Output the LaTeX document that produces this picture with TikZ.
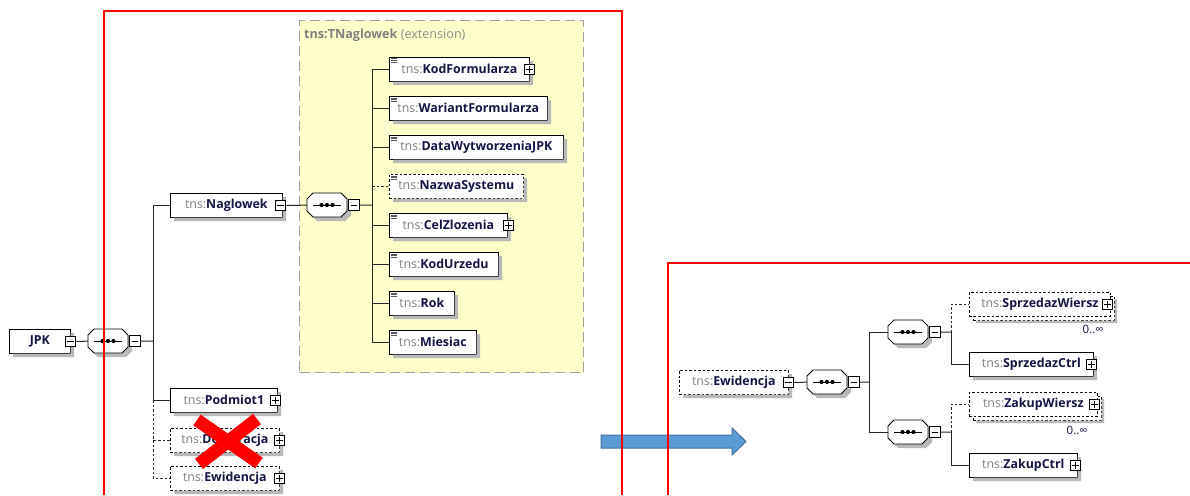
\documentclass[tikz,border=0pt]{standalone}
\usepackage{fontspec}
\setmainfont{Open Sans}
\definecolor{tnsgray}{RGB}{128,128,128}
\definecolor{namecol}{RGB}{20,20,70}
\definecolor{yellowbg}{RGB}{255,255,204}
\definecolor{yellowedge}{RGB}{160,160,160}
\definecolor{shadowgray}{RGB}{185,185,185}
\definecolor{arrowblue}{RGB}{91,155,213}
\definecolor{arrowedge}{RGB}{65,113,156}
\definecolor{redline}{RGB}{255,0,0}
\newcommand{\xel}[1]{{\color{tnsgray}tns:}{\bfseries\color{namecol}#1}}
\newcommand{\xnm}[1]{{\bfseries\color{namecol}#1}}
\tikzset{
  box/.style={draw=black, fill=white, line width=0.7pt, minimum height=24pt, inner sep=0pt,
    anchor=north west, font=\fontsize{12.4}{14}\selectfont},
  elem/.style={box},
  optbox/.style={box, dash pattern=on 2.5pt off 2pt},
  optelem/.style={optbox},
  pm/.style={draw=black, fill=white, line width=1pt, minimum size=10.5pt, inner sep=0pt},
  minusbox/.style={pm, path picture={\draw[line width=0.8pt]
    ([xshift=2pt]path picture bounding box.west) -- ([xshift=-2pt]path picture bounding box.east);}},
  plusbox/.style={pm, path picture={\draw[line width=0.8pt]
    ([xshift=2pt]path picture bounding box.west) -- ([xshift=-2pt]path picture bounding box.east)
    ([yshift=-2pt]path picture bounding box.north) -- ([yshift=2pt]path picture bounding box.south);}},
  seqbase/.style={draw=none, minimum width=40pt, minimum height=24pt, inner sep=0pt, anchor=north west},
  seqline/.style={draw=black, fill=white, line width=0.8pt},
  conn/.style={draw=black!85, line width=1pt},
  optconn/.style={conn, dash pattern=on 2.5pt off 2pt},
  redbox/.style={draw=redline, line width=2pt},
  mult/.style={inner sep=0pt, font=\fontsize{11.5}{13}\selectfont, text=namecol},
  icon/.style={draw=black!65, line width=0.6pt},
  shadowstrip/.style={fill=shadowgray, draw=none},
}
% element box with its drop shadow (L-shaped strip drawn beside the box): style, name, x, y, width, text
\newcommand{\elbox}[6]{%
  \node[#1, minimum width=#5pt] (#2) at (#3,#4) {#6};
  \path[shadowstrip] (#3+#5+0.5,#4+4) rectangle (#3+#5+4,#4+28)
                     (#3+4,#4+24.5) rectangle (#3+#5+4,#4+28);}
% repeated (0..unbounded) element: name, x, y, width, text
\newcommand{\repbox}[5]{%
  \node[optbox, minimum width=#4pt] (#1b) at (#2+4,#3+4) {};
  \path[shadowstrip] (#2+#4+4.5,#3+7) rectangle (#2+#4+7,#3+31)
                     (#2+7,#3+28.5) rectangle (#2+#4+7,#3+31);
  \node[optbox, minimum width=#4pt] (#1) at (#2,#3) {#5};}
\newcommand{\seqbox}[2]{%
  \begin{scope}[shift={(#2)}]
    \fill[shadowgray] (10,4) -- (38,4) -- (44,10) -- (44,22) -- (38,28) -- (10,28) -- (4,22) -- (4,10) -- cycle;
    \node[seqbase] (#1) at (0,0) {};
    \draw[seqline] (6,0) -- (34,0) -- (40,6) -- (40,18) -- (34,24) -- (6,24) -- (0,18) -- (0,6) -- cycle;
    \draw[line width=1pt] (6,12) -- (34,12);
    \fill (14.5,12) circle (2.1) (20,12) circle (2.1) (25.5,12) circle (2.1);
  \end{scope}}
\newcommand{\elicon}[2]{%
  \draw[icon] (#1+1.5,#2+1.8) -- ++(6,0) (#1+1.5,#2+3.6) -- ++(6,0) (#1+1.5,#2+5.4) -- ++(6,0);}
\begin{document}
\begin{tikzpicture}[x=1pt,y=-1pt]
\useasboundingbox (0,0) rectangle (1190,495);
\fill[white] (0,0) rectangle (1190,495);

% ---------- yellow extension group ----------
\node[draw=yellowedge, fill=yellowbg, line width=1.2pt, dash pattern=on 10pt off 5pt,
      minimum width=284pt, minimum height=352pt, anchor=north west, inner sep=0pt] (tn) at (299,20) {};
\node[anchor=west, inner sep=0pt, font=\fontsize{12.6}{14}\selectfont]
      (tntitle) at (304,35)
      {{\bfseries\color{tnsgray}tns:TNaglowek} {\color{black!45}(extension)}};

% ---------- left tree ----------
\elbox{elem}{jpk}{9}{329}{61}{\xnm{JPK}}
\node[minusbox] (jpkm) at (jpk.east) {};
\seqbox{s0}{88,329}
\node[minusbox, anchor=west, xshift=1pt] (s0m) at (s0.east) {};
\draw[conn] (jpkm.east) -- (s0.west);
\coordinate (b0) at (153,341);
\draw[conn] (s0m.east) -- (b0);

\elbox{elem}{nag}{170}{193}{112}{\xel{Naglowek}}
\node[minusbox, xshift=-2pt] (nagm) at (nag.east) {};
\elbox{elem}{pod}{170}{388}{107}{\xel{Podmiot1}}
\node[plusbox, xshift=-2pt] (podm) at (pod.east) {};
\elbox{optelem}{dek}{170}{428}{109}{\xel{Deklaracja}}
\node[plusbox] (dekm) at (dek.east) {};
\elbox{optelem}{ewi}{170}{466}{109}{\xel{Ewidencja}}
\node[plusbox] (ewim) at (ewi.east) {};

\draw[conn] (b0) |- (nag.west);
\draw[conn] (b0) |- (pod.west);
\draw[optconn] (b0 |- pod.west) |- (dek.west);
\draw[optconn] (b0 |- dek.west) |- (ewi.west);

% Naglowek sequence
\seqbox{s1}{307,193}
\node[minusbox, anchor=west, xshift=1pt] (s1m) at (s1.east) {};
\draw[conn] (nagm.east) -- (s1.west);
\coordinate (b1) at (372,205);
\draw[conn] (s1m.east) -- (b1);

\elbox{elem}{kod}{389}{57}{140}{\xel{KodFormularza}}
\node[plusbox] (kodm) at (kod.east) {};
\elbox{elem}{war}{389}{96}{158}{\xel{WariantFormularza}}
\elbox{elem}{dat}{389}{135}{174}{\xel{DataWytworzeniaJPK}}
\elbox{optelem}{naz}{389}{174}{134}{\xel{NazwaSystemu}}
\elbox{elem}{cel}{389}{213}{118}{\xel{CelZlozenia}}
\node[plusbox, xshift=1pt] (celm) at (cel.east) {};
\elbox{elem}{kur}{389}{252}{109}{\xel{KodUrzedu}}
\elbox{elem}{rok}{389}{291}{65}{\xel{Rok}}
\elbox{elem}{mie}{389}{330}{87}{\xel{Miesiac}}
\foreach \yy in {57,96,135,174,213,252,291,330} {\elicon{389}{\yy}}

\draw[conn] (b1 |- kod.west) -- (b1 |- mie.west);
\draw[conn] (b1 |- kod.west) -- (kod.west);
\draw[conn] (b1 |- war.west) -- (war.west);
\draw[conn] (b1 |- dat.west) -- (dat.west);
\draw[optconn] (b1 |- naz.west) -- (naz.west);
\draw[conn] (b1 |- cel.west) -- (cel.west);
\draw[conn] (b1 |- kur.west) -- (kur.west);
\draw[conn] (b1 |- rok.west) -- (rok.west);
\draw[conn] (b1 |- mie.west) -- (mie.west);

% red cross over Deklaracja
\draw[draw=redline, line width=13pt] (197,420) -- (259,463);
\draw[draw=redline, line width=13pt] (257,419) -- (199,464);

% ---------- right tree ----------
\elbox{optelem}{ewr}{679}{370}{109}{\xel{Ewidencja}}
\node[minusbox] (ewrm) at (ewr.east) {};
\seqbox{s2}{807,370}
\node[minusbox, anchor=west, xshift=1pt] (s2m) at (s2.east) {};
\draw[conn] (ewrm.east) -- (s2.west);
\coordinate (b2) at (869,382);
\draw[conn] (s2m.east) -- (b2);

\seqbox{s3}{888,320}
\node[minusbox, anchor=west, xshift=1pt] (s3m) at (s3.east) {};
\seqbox{s4}{888,420}
\node[minusbox, anchor=west, xshift=1pt] (s4m) at (s4.east) {};
\draw[conn] (b2) |- (s3.west);
\draw[conn] (b2) |- (s4.west);
\coordinate (b3) at (951,332);
\coordinate (b4) at (951,432);
\draw[conn] (s3m.east) -- (b3);
\draw[conn] (s4m.east) -- (b4);

% SprzedazWiersz (repeated)
\repbox{sw}{969}{292}{141}{\xel{SprzedazWiersz}}
\node[plusbox, xshift=-3pt] (swm) at (sw.east) {};
\node[mult, anchor=north east, xshift=-7pt, yshift=-8pt] (swmul) at (sw.south east) {0..∞};
\elbox{elem}{sc}{969}{352}{124}{\xel{SprzedazCtrl}}
\node[plusbox, xshift=-2pt] (scm) at (sc.east) {};
\draw[optconn] (b3) |- (sw.west);
\draw[conn] (b3) |- (sc.west);

% ZakupWiersz (repeated)
\repbox{zw}{969}{392}{128}{\xel{ZakupWiersz}}
\node[plusbox, xshift=-3pt] (zwm) at (zw.east) {};
\node[mult, anchor=north east, xshift=-10pt, yshift=-9pt] (zwmul) at (zw.south east) {0..∞};
\elbox{elem}{zc}{969}{453}{108}{\xel{ZakupCtrl}}
\node[plusbox, xshift=-2pt] (zcm) at (zc.east) {};
\draw[optconn] (b4) |- (zw.west);
\draw[conn] (b4) |- (zc.west);

% ---------- blue arrow ----------
\filldraw[fill=arrowblue, draw=arrowedge, line width=1pt]
  (601,435) -- (732,435) -- (732,428) -- (746,441.5) -- (732,455) -- (732,448) -- (601,448) -- cycle;

% ---------- red frames ----------
\draw[redbox] (104,495) -- (104,11) -- (622,11) -- (622,495);
\draw[redbox] (668,495) -- (668,263) -- (1190,263);
\end{tikzpicture}
\end{document}
